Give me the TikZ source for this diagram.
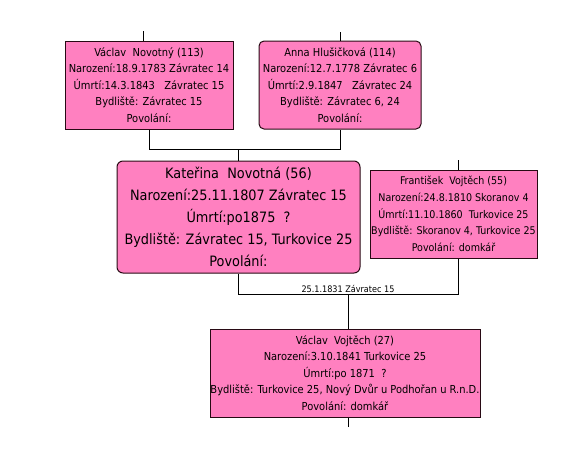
\documentclass[tikz,border=0pt]{standalone}
\usepackage{fontspec}
\setmainfont{DejaVu Sans Condensed}
\definecolor{boxpink}{RGB}{255,128,192}
\definecolor{boxline}{RGB}{40,10,20}
\begin{document}
\begin{tikzpicture}[x=1pt,y=-1pt,
  person/.style={draw=boxline,fill=boxpink,line width=1pt,align=center,inner sep=0pt,
     font=\fontsize{11}{16.4}\selectfont},
  bigperson/.style={person,font=\fontsize{14.3}{22}\selectfont},
  narrowbox/.style={person,font=\fontsize{10.6}{16.8}\selectfont},
  widebox/.style={person,font=\fontsize{11}{16.4}\selectfont},
  link/.style={draw=black,line width=1pt},
  note/.style={font=\fontsize{9}{10}\selectfont,inner sep=1pt}]
\useasboundingbox (0,0) rectangle (567,458);
\node[person,minimum width=168pt,minimum height=88pt] (b1) at (149,85)
  {Václav\ \ Novotný (113)\\Narození:18.9.1783 Závratec 14\\Úmrtí:14.3.1843\ \ \ Závratec 15\\Bydliště: Závratec 15\\Povolání:};
\node[person,rounded corners=5pt,minimum width=162pt,minimum height=88pt] (b2) at (340,85)
  {Anna Hlušičková (114)\\Narození:12.7.1778 Závratec 6\\Úmrtí:2.9.1847\ \ \ Závratec 24\\Bydliště: Závratec 6, 24\\Povolání:};
\node[bigperson,rounded corners=6pt,minimum width=243pt,minimum height=112pt] (b3) at (238.5,217)
  {Kateřina\ \ Novotná (56)\\Narození:25.11.1807 Závratec 15\\Úmrtí:po1875\ \ ?\\Bydliště: Závratec 15, Turkovice 25\\Povolání:};
\node[narrowbox,minimum width=167pt,minimum height=88pt] (b4) at (453.5,214)
  {František\ \ Vojtěch (55)\\Narození:24.8.1810 Skoranov 4\\Úmrtí:11.10.1860\ \ Turkovice 25\\Bydliště: Skoranov 4, Turkovice 25\\Povolání: domkář};
\node[widebox,minimum width=270pt,minimum height=88pt] (b5) at (345,373)
  {Václav\ \ Vojtěch (27)\\Narození:3.10.1841 Turkovice 25\\Úmrtí:po 1871\ \ ?\\Bydliště: Turkovice 25, Nový Dvůr u Podhořan u R.n.D.\\Povolání: domkář};
% stubs
\coordinate (s1) at (143,31);
\coordinate (s2) at (340,32);
\coordinate (s4) at (458,160);
\coordinate (s5) at (348,427);
\draw[link] (s1) -- (s1 |- b1.north);
\draw[link] (s2) -- (s2 |- b2.north);
\draw[link] (s4) -- (s4 |- b4.north);
\draw[link] (s5) -- (s5 |- b5.south);
% parents of b3
\coordinate (j1) at (0,149);
\draw[link] (b1.south) -- (b1.south |- j1) -- (b2.south |- j1) -- (b2.south);
\draw[link] (b3.north |- j1) -- (b3.north);
% marriage b3 + b4
\coordinate (j2) at (0,294);
\coordinate (m) at (348,294);
\draw[link] (b3.south) -- (b3.south |- j2) -- (s4 |- j2) -- (s4 |- b4.south);
\draw[link] (m) -- (m |- b5.north);
\node[note,anchor=south] (lbl) at (m) {25.1.1831 Závratec 15};
\end{tikzpicture}
\end{document}
